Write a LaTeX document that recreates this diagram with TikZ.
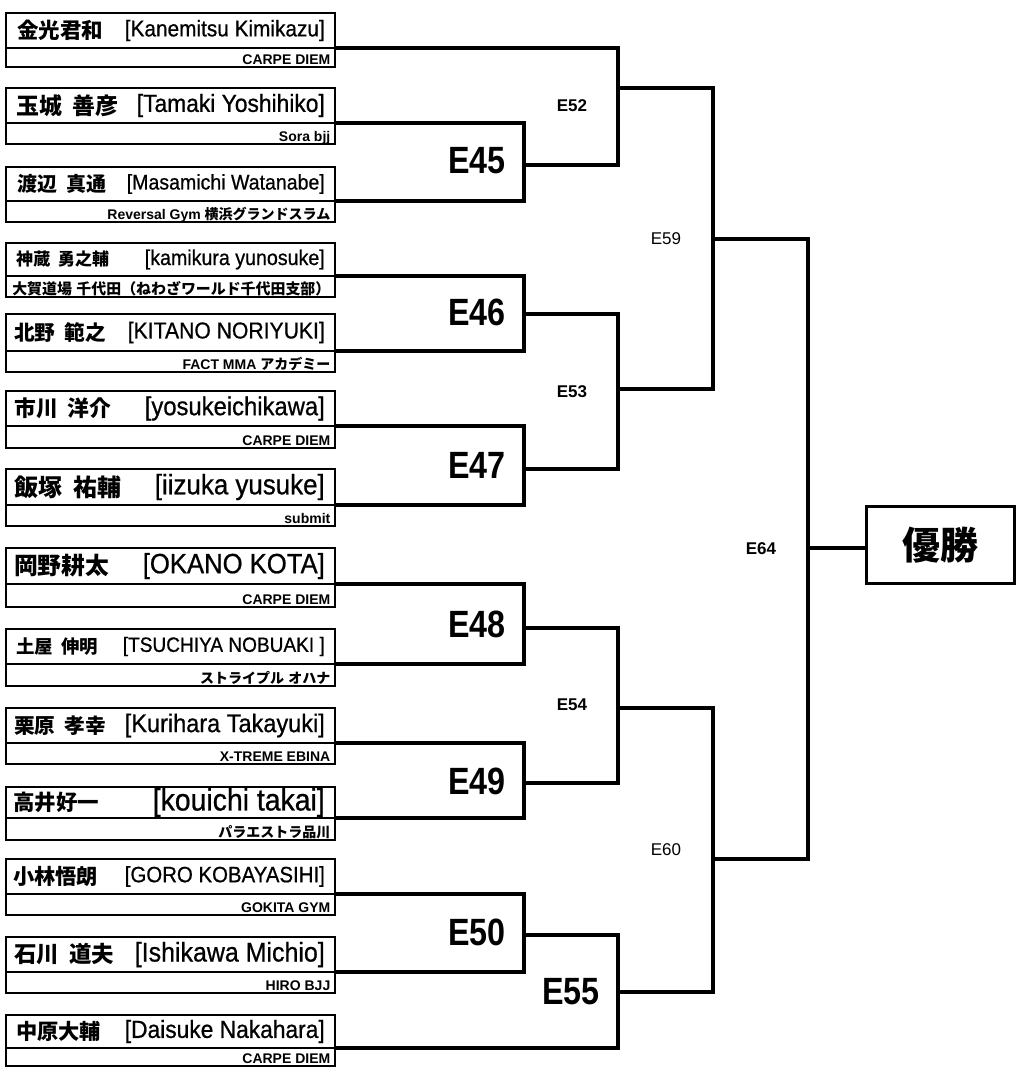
\documentclass[tikz,border=0pt]{standalone}
\usepackage{fontspec}
\usepackage{graphicx}
\setmainfont{Liberation Sans}
\newfontfamily\jp{Noto Sans CJK JP}
\newfontfamily\jpk{Noto Sans CJK JP}[UprightFont=* Black]
\newfontfamily\lat{Liberation Sans}[FakeStretch=0.92, FakeBold=0.7]
\newfontfamily\labf{Liberation Sans}[FakeStretch=0.85]
\newcommand\J[1]{{\jp\bfseries #1}}
\newcommand\JK[1]{{\jpk #1}}
\newcommand\fsz[1]{\fontsize{#1}{#1}\selectfont}
% box + team
\newcommand\player[5]{%
  \node[pbox, minimum height={(#4-#2)*1pt}] (p#1) at (6,#2) {};
  \draw[boxline] (6,#3) -- (335,#3);
  \node[anchor=base east, inner sep=0pt] (t#1) at (330.5,{#4-2.5}) {\fsz{14}\bfseries #5};
  \coordinate (o#1) at (335,#3);
}
% name: id, y centre, jp text, jp x, jp width, (unused), latin text, latin width
\newcommand\pname[8]{%
  \node[anchor=west, inner sep=0pt] (j#1) at (#4,#2) {\resizebox{#5pt}{!}{\fsz{20}\JK{#3}}};
  \node[anchor=east, inner sep=0pt] (a#1) at (325,#2) {\resizebox{#8pt}{!}{\fsz{20}\lat #7}};
}
\begin{document}
\begin{tikzpicture}[x=1pt,y=-1pt,
  pbox/.style={draw, line width=2pt, anchor=north west, minimum width=329pt, inner sep=0pt, outer sep=0pt},
  boxline/.style={line width=2pt},
  br/.style={line width=4pt},
  big/.style={inner sep=0pt, font=\labf\bfseries\fsz{38}},
  sml/.style={inner sep=0pt, font=\bfseries\fsz{17}},
  smr/.style={inner sep=0pt, font=\fsz{17}},
  ]
\useasboundingbox (0,0) rectangle (1016,1068);

\player{1}{13}{47.5}{67}{CARPE DIEM}
\player{2}{88}{123}{144}{Sora bjj}
\player{3}{167}{201}{222}{Reversal Gym \J{横浜グランドスラム}}
\player{4}{243}{276}{297}{\resizebox{318pt}{!}{\J{大賀道場\hspace{.3em}千代田（ねわざワールド千代田支部）}}}
\player{5}{314}{351}{372}{FACT MMA \J{アカデミー}}
\player{6}{391}{426}{448}{CARPE DIEM}
\player{7}{469}{505}{526}{submit}
\player{8}{548}{584}{607}{CARPE DIEM}
\player{9}{629}{664}{686}{\J{ストライプル\hspace{.3em}オハナ}}
\player{10}{708}{743}{764}{X-TREME EBINA}
\player{11}{787}{818}{840}{\J{パラエストラ品川}}
\player{12}{859}{894}{915}{GOKITA GYM}
\player{13}{937}{972}{993}{HIRO BJJ}
\player{14}{1015}{1048}{1066}{CARPE DIEM}

\pname{1}{30.5}{金光君和}{17}{86}{0}{[Kanemitsu Kimikazu]}{200}
\pname{2}{105.5}{玉城\hspace{.45em}善彦}{16}{102}{0}{[Tamaki Yoshihiko]}{188}
\pname{3}{184}{渡辺\hspace{.45em}真通}{17}{89}{0}{[Masamichi Watanabe]}{198}
\pname{4}{259.5}{神蔵\hspace{.45em}勇之輔}{16}{93}{0}{[kamikura yunosuke]}{180}
\pname{5}{332.5}{北野\hspace{.45em}範之}{14}{92}{0}{[KITANO NORIYUKI]}{197}
\pname{6}{408.5}{市川\hspace{.45em}洋介}{14}{97}{0}{[yosukeichikawa]}{180}
\pname{7}{487}{飯塚\hspace{.45em}祐輔}{14}{107}{0}{[iizuka yusuke]}{170}
\pname{8}{566}{岡野耕太}{14}{95}{0}{[OKANO KOTA]}{182}
\pname{9}{646.5}{土屋\hspace{.45em}伸明}{16}{82}{0}{[TSUCHIYA NOBUAKI ]}{202}
\pname{10}{725.5}{栗原\hspace{.45em}孝幸}{14}{92}{0}{[Kurihara Takayuki]}{200}
\pname{11}{802.5}{高井好一}{13}{86}{0}{[kouichi takai]}{172}
\pname{12}{876.5}{小林悟朗}{13}{85}{0}{[GORO KOBAYASIHI]}{200}
\pname{13}{954.5}{石川\hspace{.45em}道夫}{14}{100}{0}{[Ishikawa Michio]}{190}
\pname{14}{1031.5}{中原大輔}{16}{85}{0}{[Daisuke Nakahara]}{200}

\coordinate (m45) at (524,165);
\coordinate (m46) at (524,314);
\coordinate (m47) at (524,469);
\coordinate (m48) at (524,628);
\coordinate (m49) at (524,783);
\coordinate (m50) at (524,935);
\coordinate (m52) at (618,88);
\coordinate (m53) at (618,389);
\coordinate (m54) at (618,708);
\coordinate (m55) at (618,992);
\coordinate (m59) at (713,239);
\coordinate (m60) at (713,859);
\coordinate (m64) at (808,548);

\node[draw, line width=3pt, minimum width=148pt, minimum height=77pt, inner sep=0pt] (win) at (940,545) {\fsz{38}\JK{優勝}};

\draw[br] (o2) -| (m45) |- (o3);
\draw[br] (o4) -| (m46) |- (o5);
\draw[br] (o6) -| (m47) |- (o7);
\draw[br] (o8) -| (m48) |- (o9);
\draw[br] (o10) -| (m49) |- (o11);
\draw[br] (o12) -| (m50) |- (o13);
\draw[br] (o1) -| (m52) |- (m45);
\draw[br] (m46) -| (m53) |- (m47);
\draw[br] (m48) -| (m54) |- (m49);
\draw[br] (m50) -| (m55) |- (o14);
\draw[br] (m52) -| (m59) |- (m53);
\draw[br] (m54) -| (m60) |- (m55);
\draw[br] (m59) -| (m64) |- (m60);
\draw[br] (m64) -- (m64 -| win.west);

\node[big] (l45) at (477,161) {E45};
\node[big] (l46) at (477,312) {E46};
\node[big] (l47) at (477,465) {E47};
\node[big] (l48) at (477,624) {E48};
\node[big] (l49) at (477,781) {E49};
\node[big] (l50) at (477,932) {E50};
\node[big] (l55) at (571,992) {E55};
\node[sml] (l52) at (572,106) {E52};
\node[sml] (l53) at (572,392) {E53};
\node[sml] (l54) at (572,705) {E54};
\node[smr] (l59) at (666,239) {E59};
\node[smr] (l60) at (666,850) {E60};
\node[sml] (l64) at (761,549) {E64};
\end{tikzpicture}
\end{document}
